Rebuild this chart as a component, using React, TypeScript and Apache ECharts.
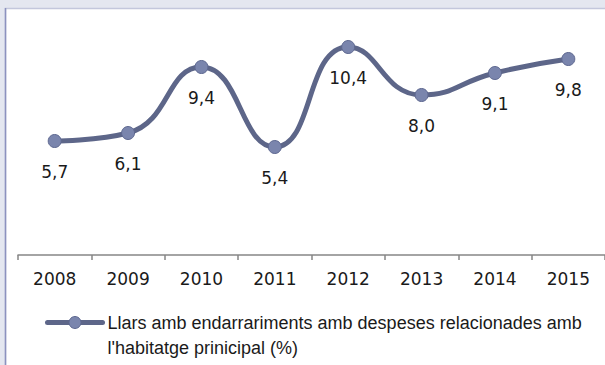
import React, { useEffect, useRef } from "react";
import * as echarts from "echarts";

const years = ["2008", "2009", "2010", "2011", "2012", "2013", "2014", "2015"];
const values = [5.7, 6.1, 9.4, 5.4, 10.4, 8.0, 9.1, 9.8];
const seriesName =
  "Llars amb endarrariments amb despeses relacionades amb\nl'habitatge prinicipal (%)";

const FONT = "DejaVu Sans";
const LEGEND_FONT = "Liberation Sans";

export default function App() {
  const ref = useRef<HTMLDivElement>(null);
  useEffect(() => {
    if (!ref.current) return;
    const chart = echarts.init(ref.current, undefined, { renderer: "svg" });
    chart.setOption({
      animation: false,
      backgroundColor: "#e4e7f0",
      textStyle: { fontFamily: FONT },
      graphic: [
        {
          type: "rect",
          z: -10,
          silent: true,
          shape: { x: 5.5, y: 8.5, width: 700, height: 400 },
          style: { fill: "#ffffff", stroke: "#c3c7dc", lineWidth: 1.5 },
        },
        {
          type: "line",
          z: -9,
          silent: true,
          shape: { x1: 5.5, y1: 8, x2: 5.5, y2: 400 },
          style: { stroke: "#8c92bf", lineWidth: 1.5 },
        },
      ],
      grid: { left: 18, right: -5, top: 15, bottom: 110, containLabel: false },
      xAxis: {
        type: "category",
        data: years,
        boundaryGap: true,
        axisLine: { lineStyle: { color: "#868686", width: 1.5 } },
        axisTick: {
          show: true,
          alignWithLabel: false,
          length: 5,
          lineStyle: { color: "#868686", width: 1.5 },
        },
        axisLabel: { color: "#1a1a1a", fontSize: 17, fontFamily: FONT, margin: 15 },
      },
      yAxis: {
        type: "value",
        min: 0,
        max: 12,
        show: false,
        splitLine: { show: false },
      },
      legend: {
        show: true,
        left: 45,
        top: 285,
        padding: 0,
        itemWidth: 55,
        itemHeight: 15,
        itemGap: 5,
        formatter: (name: string) => "\n" + name,
        lineStyle: { color: "#5d6689", width: 5, cap: "round" },
        itemStyle: { color: "#7a85ad", borderColor: "#5e6890", borderWidth: 1 },
        textStyle: {
          color: "#1a1a1a",
          fontSize: 18,
          fontFamily: LEGEND_FONT,
          lineHeight: 25,
        },
        data: [seriesName],
      },
      series: [
        {
          name: seriesName,
          type: "line",
          data: values,
          smooth: 0.5,
          symbol: "circle",
          symbolSize: 13,
          lineStyle: { color: "#5d6689", width: 5, cap: "round" },
          itemStyle: { color: "#7a85ad", borderColor: "#5e6890", borderWidth: 1 },
          label: {
            show: true,
            position: "bottom",
            distance: 15,
            color: "#1a1a1a",
            fontSize: 17,
            fontFamily: FONT,
            formatter: (p: any) => p.value.toFixed(1).replace(".", ","),
          },
        },
      ],
    });
    return () => chart.dispose();
  }, []);
  return (
    <div
      ref={ref}
      style={{ position: "fixed", left: 0, top: 0, width: 605, height: 365 }}
    />
  );
}
